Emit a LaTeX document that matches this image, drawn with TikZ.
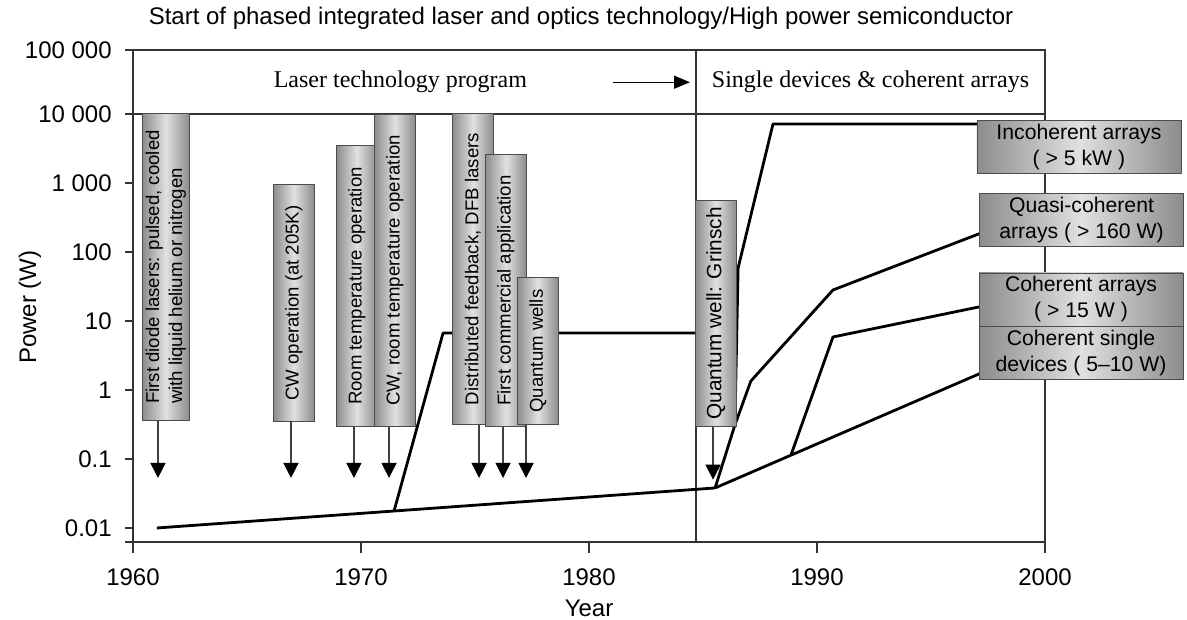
\documentclass[tikz,border=0pt]{standalone}
\usepackage{fontspec}
\setmainfont{Liberation Sans}
\newfontfamily\bandfont{Liberation Serif}
\usetikzlibrary{positioning}
\usetikzlibrary{arrows.meta}

\definecolor{boxdark}{gray}{0.55}
\definecolor{boxlight}{gray}{0.88}
\definecolor{axisgray}{gray}{0.2}

\tikzset{
  axis/.style={draw=axisgray,line width=0.8pt},
  curve/.style={draw=black,line width=1.4pt,line join=round},
  ticklabel/.style={inner sep=0pt,font=\fontsize{12}{14}\selectfont},
  bandlabel/.style={inner sep=0pt,font=\bandfont\fontsize{12}{14}\selectfont},
  bandarrow/.style={draw=black,line width=0.6pt,-{Triangle[length=8pt,width=6.5pt]}},
  evbox/.style={rotate=90,anchor=north west,draw=gray!60!black,line width=0.4pt,
    left color=boxdark,right color=boxdark,middle color=boxlight,
    minimum width=#1,minimum height=20.5pt,inner sep=1pt,align=left,
    font=\fontsize{9.3}{11.5}\selectfont},
  evarrow/.style={draw=gray!50!black,line width=0.7pt,
    -{Triangle[length=7.5pt,width=7.5pt,black]}},
  arraybox/.style={draw=gray!60!black,line width=0.4pt,
    left color=boxdark,right color=boxdark,middle color=boxlight,
    minimum width=102pt,minimum height=26.5pt,inner sep=1pt,align=center,
    font=\fontsize{10.6}{13}\selectfont},
}

\begin{document}
\begin{tikzpicture}[x=11.4pt,y=34.5pt]
  \useasboundingbox (-5.833,-1.333) rectangle (46.228,7.652);

  % frame, axes and ticks
  \draw[axis] (0,-0.36) -- (0,6.93) -- (40,6.93) -- (40,-0.36);
  \draw[axis] (-0.33,-0.2) -- (40,-0.2);
  \draw[axis] (-0.33,6) -- (40,6);
  \draw[axis] (24.7,-0.2) -- (24.7,6.93);
  \draw[axis] (0,6.93) -- (-0.33,6.93)
    node[ticklabel,anchor=east,xshift=-6.5pt] (ylab7) {100 000};
  \foreach \y/\lab in {0/0.01,1/0.1,2/1,3/10,4/100,5/1 000,6/10 000}
    \draw[axis] (0,\y) -- (-0.33,\y)
      node[ticklabel,anchor=east,xshift=-6.5pt] (ylab\y) {\lab};
  \foreach \x/\yr in {0/1960,10/1970,20/1980,30/1990,40/2000}
    \draw[axis] (\x,-0.2) -- (\x,-0.36)
      node[ticklabel,anchor=north,yshift=-7.5pt] (xlab\x) {\yr};

  % titles
  \node[inner sep=0pt,font=\fontsize{12}{14}\selectfont] (title) at (19.65,7.39)
    {Start of phased integrated laser and optics technology/High power semiconductor};
  \node[ticklabel,rotate=90] (ylabel) at (-4.52,3.2) {Power (W)};
  \node[ticklabel] (xlabel) at (20,-1.17) {Year};

  % program band
  \node[bandlabel] (ltp) at (11.73,6.46) {Laser technology program};
  \node[bandlabel] (sdca) at (32.35,6.46) {Single devices \& coherent arrays};
  \coordinate (bandarrs) at (21.05,6.46);
  \coordinate (bandarre) at (24.43,6.46);
  \draw[bandarrow] (bandarrs) -- (bandarre);

  % power curves
  \draw[curve] (1.05,0) -- (11.45,0.246) -- (25.53,0.58);
  \draw[curve] (11.45,0.246) -- (13.6,2.826) -- (24.7,2.826);
  \draw[curve] (25.53,0.58) -- (26.40,1.493) -- (26.54,3.768) -- (28.07,5.855) -- (37.2,5.855);
  \draw[curve] (26.40,1.493) -- (27.10,2.13) -- (30.70,3.449) -- (37.2,4.275);
  \draw[curve] (25.53,0.58) -- (37.2,2.246);
  \draw[curve] (28.86,1.058) -- (30.70,2.768) -- (37.2,3.21);

  % milestones
  \node[evbox=153.5pt,minimum height=23.5pt] (fdl) at (0.395,1.551)
    {First diode lasers: pulsed, cooled\\with liquid helium or nitrogen};
  \node[evbox=118.5pt] (cwo) at (6.14,1.536) {CW operation (at 205K)};
  \node[evbox=140.5pt] (rto) at (8.90,1.464) {Room temperature operation};
  \node[evbox=156pt] (cwrt) at (10.57,1.464) {CW, room temperature operation};
  \node[evbox=155.5pt] (dfb) at (13.99,1.493) {Distributed feedback, DFB lasers};
  \node[evbox=136pt] (fca) at (15.44,1.464) {First commercial application};
  \node[evbox=73.5pt] (qw) at (16.84,1.493) {Quantum wells};
  \node[evbox=113pt,font=\fontsize{10.4}{12}\selectfont] (qwg) at (24.65,1.464)
    {Quantum well: Grinsch};

  \foreach \b/\x/\y in {fdl/1.096/0.725,cwo/6.93/0.725,rto/9.69/0.725,
      cwrt/11.23/0.725,dfb/15.18/0.725,fca/16.23/0.725,qw/17.24/0.725,qwg/25.44/0.70}{
    \coordinate (\b-tip) at (\x,\y);
    \draw[evarrow] (\b-tip |- \b.west) -- (\b-tip);
  }

  % array results
  \node[arraybox] (inc) at (41.49,5.522) {Incoherent arrays\\( > 5 kW )};
  \node[arraybox] (qca) at (41.60,4.464) {Quasi-coherent\\arrays ( > 160 W)};
  \node[arraybox] (coa) at (41.58,3.312) {Coherent arrays\\( > 15 W )};
  \node[arraybox,below=0pt of coa] (csd) {Coherent single\\devices ( 5--10 W)};
\end{tikzpicture}
\end{document}
